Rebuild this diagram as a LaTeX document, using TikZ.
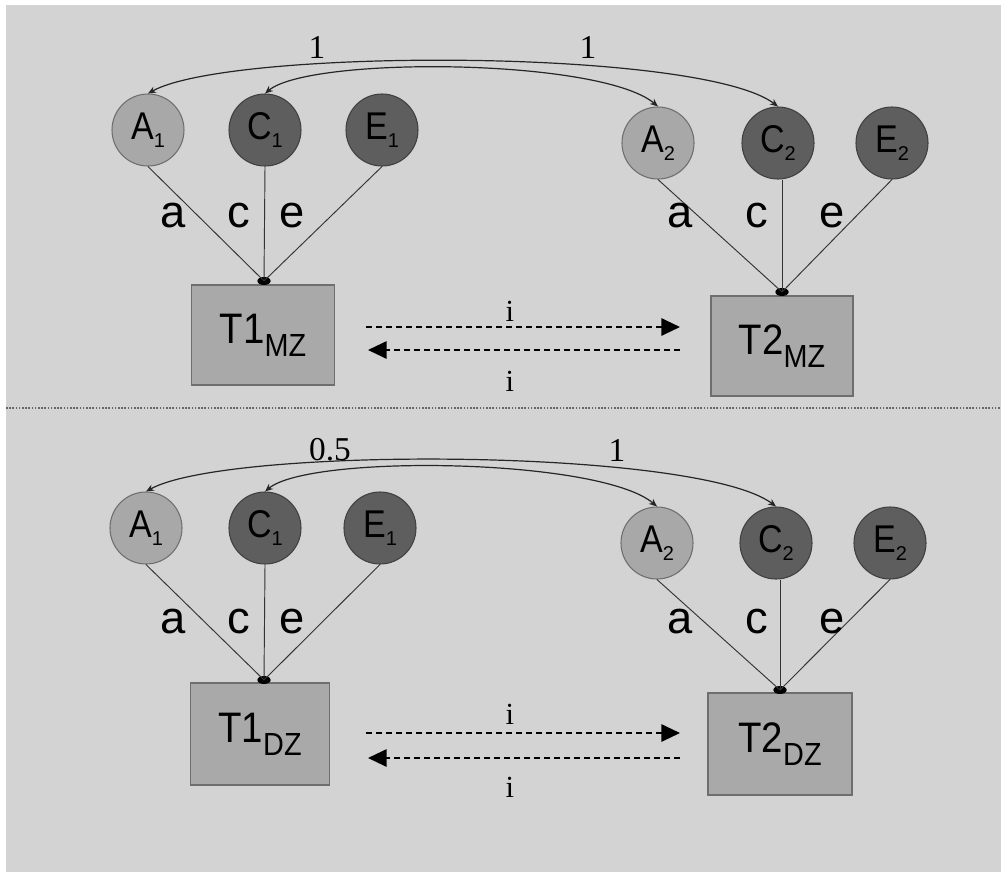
\documentclass[tikz,border=0pt]{standalone}
\usepackage{fontspec}
\setmainfont{Liberation Sans}
\newfontfamily\serifnum{Liberation Serif}
\usetikzlibrary{arrows.meta,shapes.geometric}
\definecolor{bg}{HTML}{D3D3D3}
\definecolor{lightc}{HTML}{A8A8A8}
\definecolor{darkc}{HTML}{5E5E5E}
\definecolor{boxc}{HTML}{A9A9A9}
\definecolor{edgec}{HTML}{6E6E6E}
\newcommand{\sublab}[2]{\scalebox{0.88}[1]{#1}\raisebox{-6pt}{\fontsize{15}{15}\selectfont #2}}
\newcommand{\boxlab}[2]{\scalebox{0.9}[1]{#1}\raisebox{-10pt}{\fontsize{24}{24}\selectfont\scalebox{0.9}[1]{#2}}}
\begin{document}
\begin{tikzpicture}[x=0.75pt,y=-0.75pt,
  latl/.style={circle,minimum size=54pt,inner sep=0pt,fill=lightc,draw=edgec,line width=0.8pt,font=\fontsize{29}{29}\selectfont},
  latd/.style={circle,minimum size=54pt,inner sep=0pt,fill=darkc,draw=black!75,line width=0.8pt,font=\fontsize{29}{29}\selectfont},
  obsbox/.style={rectangle,fill=boxc,draw=edgec,line width=1pt,inner sep=0pt,font=\fontsize{32}{32}\selectfont},
  joint/.style={ellipse,fill=black,inner sep=0pt,minimum width=10pt,minimum height=6pt},
  pathline/.style={draw=black!80,line width=0.7pt},
  pathlbl/.style={font=\fontsize{34}{34}\selectfont,inner sep=0pt},
  numlbl/.style={font=\serifnum\fontsize{25}{25}\selectfont,inner sep=0pt},
  ilbl/.style={font=\serifnum\fontsize{23}{23}\selectfont,inner sep=0pt},
  corr/.style={draw=black!85,line width=0.9pt,{Stealth[length=6pt,width=5pt]}-{Stealth[length=6pt,width=5pt]}},
  dasharrow/.style={draw=black,line width=1.5pt,dash pattern=on 4.5pt off 3pt,-{Triangle[length=14pt,width=13pt]}},
  divider/.style={draw=black!60,line width=1.1pt,dash pattern=on 1.2pt off 1.2pt}
]
\useasboundingbox (0,0) rectangle (1001,872);
\fill[white] (0,0) rectangle (1001,872);
\fill[bg] (6,5) rectangle (1001,872);

% ===== top panel (MZ) =====
\node[latl] (A1t) at (148,130) {\sublab{A}{1}};
\node[latd] (C1t) at (265,130) {\sublab{C}{1}};
\node[latd] (E1t) at (382,130) {\sublab{E}{1}};
\node[latl] (A2t) at (658,143) {\sublab{A}{2}};
\node[latd] (C2t) at (778,143) {\sublab{C}{2}};
\node[latd] (E2t) at (892,143) {\sublab{E}{2}};

\node[obsbox,minimum width=107pt,minimum height=75pt] (T1t) at (263,335) {\boxlab{T1}{MZ}};
\node[obsbox,minimum width=106.5pt,minimum height=75pt] (T2t) at (782,346) {\boxlab{T2}{MZ}};
\node[joint] (J1t) at (264,281) {};
\node[joint] (J2t) at (782,292) {};

\draw[pathline] (A1t.south) -- (J1t.center);
\draw[pathline] (C1t.south) -- (J1t.center);
\draw[pathline] (E1t.south) -- (J1t.center);
\draw[pathline] (A2t.south) -- (J2t.center);
\draw[pathline] (J2t.center) -- (J2t |- C2t.south);
\draw[pathline] (E2t.south) -- (J2t.center);

\node[pathlbl] (at1) at (173,216) {a};
\node[pathlbl] (ct1) at (239,216) {c};
\node[pathlbl] (et1) at (292,216) {e};
\node[pathlbl] (at2) at (680,216) {a};
\node[pathlbl] (ct2) at (757,216) {c};
\node[pathlbl] (et2) at (832,216) {e};

\draw[corr] (A1t.north) .. controls (230,48) and (700,48) .. (C2t.north);
\draw[corr] (C1t.north) .. controls (310,56) and (600,58) .. (A2t.north);
\node[numlbl] (n1t) at (317,47) {1};
\node[numlbl] (n2t) at (588,47) {1};

\coordinate (r1s) at (366,327);
\coordinate (r1e) at (680,327);
\coordinate (l1s) at (680,350);
\coordinate (l1e) at (368,350);
\draw[dasharrow] (r1s) -- (r1e);
\draw[dasharrow] (l1s) -- (l1e);
\node[ilbl] (i1t) at (510,311) {i};
\node[ilbl] (i2t) at (510,381) {i};

% ===== divider =====
\coordinate (dvl) at (6,408);
\coordinate (dvr) at (1001,408);
\draw[divider] (dvl) -- (dvr);

% ===== bottom panel (DZ) =====
\node[latl] (A1b) at (146,528) {\sublab{A}{1}};
\node[latd] (C1b) at (265,528) {\sublab{C}{1}};
\node[latd] (E1b) at (380,528) {\sublab{E}{1}};
\node[latl] (A2b) at (657,543) {\sublab{A}{2}};
\node[latd] (C2b) at (776,543) {\sublab{C}{2}};
\node[latd] (E2b) at (890,543) {\sublab{E}{2}};

\node[obsbox,minimum width=104pt,minimum height=76.5pt] (T1b) at (260,734) {\boxlab{T1}{DZ}};
\node[obsbox,minimum width=108pt,minimum height=76.5pt] (T2b) at (780,744) {\boxlab{T2}{DZ}};
\node[joint] (J1b) at (264,680) {};
\node[joint] (J2b) at (780,690) {};

\draw[pathline] (A1b.south) -- (J1b.center);
\draw[pathline] (C1b.south) -- (J1b.center);
\draw[pathline] (E1b.south) -- (J1b.center);
\draw[pathline] (A2b.south) -- (J2b.center);
\draw[pathline] (J2b.center) -- (J2b |- C2b.south);
\draw[pathline] (E2b.south) -- (J2b.center);

\node[pathlbl] (ab1) at (173,622) {a};
\node[pathlbl] (cb1) at (239,622) {c};
\node[pathlbl] (eb1) at (292,622) {e};
\node[pathlbl] (ab2) at (680,622) {a};
\node[pathlbl] (cb2) at (757,622) {c};
\node[pathlbl] (eb2) at (832,622) {e};

\draw[corr] (A1b.north) .. controls (228,446) and (698,448) .. (C2b.north);
\draw[corr] (C1b.north) .. controls (310,454) and (600,458) .. (A2b.north);
\node[numlbl] (n1b) at (330,450) {0.5};
\node[numlbl] (n2b) at (617,450) {1};

\coordinate (r2s) at (366,733);
\coordinate (r2e) at (680,733);
\coordinate (l2s) at (680,758);
\coordinate (l2e) at (368,758);
\draw[dasharrow] (r2s) -- (r2e);
\draw[dasharrow] (l2s) -- (l2e);
\node[ilbl] (i1b) at (510,714) {i};
\node[ilbl] (i2b) at (510,787) {i};
\end{tikzpicture}
\end{document}
